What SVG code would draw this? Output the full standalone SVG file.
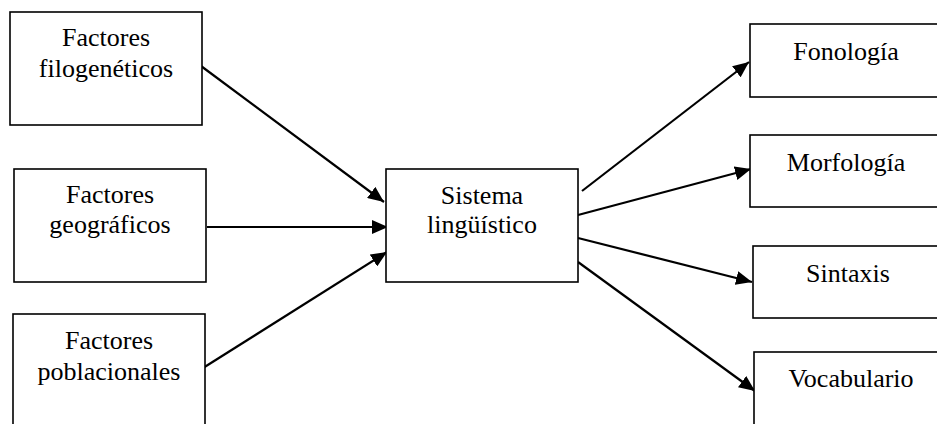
<svg xmlns="http://www.w3.org/2000/svg" width="937" height="424" viewBox="0 0 937 424">
<style>
.box{fill:#fff;stroke:#000;stroke-width:1.6}
.t{font-family:"Liberation Serif","Times New Roman",serif;font-size:26px;fill:#000;text-anchor:middle}
.c{stroke:#000;stroke-width:2.2;fill:none;marker-end:url(#ah)}
</style>
<defs>
<marker id="ah" viewBox="0 0 16 14" refX="16" refY="7" markerWidth="16" markerHeight="14" markerUnits="userSpaceOnUse" orient="auto">
<path d="M0,0 L16,7 L0,14 z" fill="#000"/>
</marker>
</defs>
<rect width="937" height="424" fill="#fff"/>
<g id="connectors">
<line class="c" x1="201" y1="66" x2="384" y2="202"/>
<line class="c" x1="207" y1="227" x2="388" y2="227"/>
<line class="c" x1="203" y1="368" x2="387" y2="252"/>
<line class="c" x1="582" y1="191" x2="749" y2="62"/>
<line class="c" x1="578" y1="215" x2="751" y2="169"/>
<line class="c" x1="578" y1="238" x2="752" y2="282"/>
<line class="c" x1="578" y1="262" x2="755" y2="391"/>
</g>
<g id="n-filogeneticos">
<rect class="box" x="10" y="12" width="192" height="113"/>
<text class="t" x="106" y="46">Factores</text>
<text class="t" x="106" y="77">filogenéticos</text>
</g>
<g id="n-geograficos">
<rect class="box" x="14" y="169" width="192" height="113"/>
<text class="t" x="110" y="203">Factores</text>
<text class="t" x="110" y="233">geográficos</text>
</g>
<g id="n-poblacionales">
<rect class="box" x="13" y="314" width="192" height="115"/>
<text class="t" x="109" y="349">Factores</text>
<text class="t" x="109" y="380">poblacionales</text>
</g>
<g id="n-sistema">
<rect class="box" x="386" y="169" width="192" height="113"/>
<text class="t" x="482" y="204">Sistema</text>
<text class="t" x="482" y="233">lingüístico</text>
</g>
<g id="n-fonologia">
<rect class="box" x="750" y="24" width="194" height="73"/>
<text class="t" x="846" y="60">Fonología</text>
</g>
<g id="n-morfologia">
<rect class="box" x="750" y="135" width="194" height="72"/>
<text class="t" x="846" y="171">Morfología</text>
</g>
<g id="n-sintaxis">
<rect class="box" x="753" y="246" width="194" height="72"/>
<text class="t" x="848" y="282">Sintaxis</text>
</g>
<g id="n-vocabulario">
<rect class="box" x="754" y="352" width="194" height="76"/>
<text class="t" x="851" y="387">Vocabulario</text>
</g>
</svg>
